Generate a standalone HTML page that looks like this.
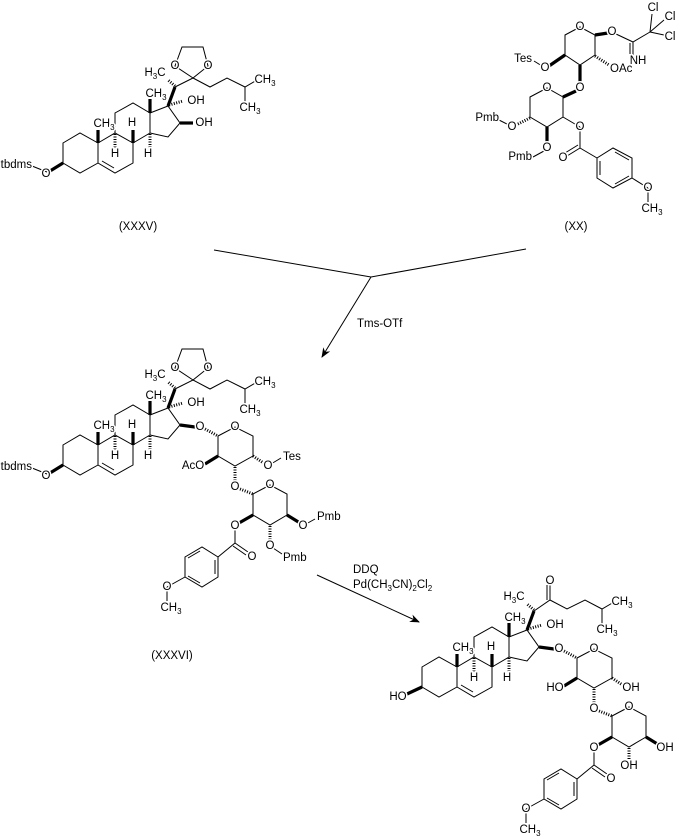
<!DOCTYPE html>
<html><head><meta charset="utf-8"><style>
html,body{margin:0;padding:0;background:#fff;}
svg{display:block;}
text{font-family:"Liberation Sans",sans-serif;font-size:11.5px;fill:#000;stroke:#fff;stroke-width:3px;paint-order:stroke;}
.c{text-anchor:middle;dominant-baseline:central;}
.e{text-anchor:end;dominant-baseline:central;}
.s{text-anchor:start;dominant-baseline:central;}
.n{stroke:none;}
</style></head><body>
<svg width="677" height="839" viewBox="0 0 677 839" xmlns="http://www.w3.org/2000/svg">
<defs>
<marker id="ah" markerWidth="10" markerHeight="8" refX="9" refY="4" orient="auto" markerUnits="userSpaceOnUse">
<path d="M0,0 L10,4 L0,8 L3,4 Z" fill="#000"/>
</marker>
</defs>
<g fill="none" stroke="#000" stroke-width="1">
<line x1="214" y1="250" x2="371" y2="277"/>
<line x1="526" y1="249" x2="371" y2="277"/>
<line x1="371" y1="277" x2="322" y2="357" marker-end="url(#ah)"/>
<line x1="317" y1="575" x2="419" y2="622" marker-end="url(#ah)"/>
</g>
<text class="s n" x="357" y="324">Tms-OTf</text>
<text class="s n" x="353" y="570">DDQ</text>
<text class="s n" x="353" y="585">Pd(CH<tspan font-size="8" dy="3">3</tspan><tspan dy="-3">CN)</tspan><tspan font-size="8" dy="3">2</tspan><tspan dy="-3">Cl</tspan><tspan font-size="8" dy="3">2</tspan></text>

<g>
<g fill="none" stroke="#000" stroke-width="1">
<path d="M63,143 L80,133 L98,143 L98,163 L80,173 L63,163 Z"/>
<path d="M98,143 L115,133 L133,143 L133,163 L115,173 L98,163"/>
<line x1="102" y1="161" x2="114" y2="168"/>
<path d="M115,133 L115,113 L133,103 L150,113 L150,133 L133,143"/>
<path d="M150,113 L168,106 L180,123 L168,137 L150,133"/>
<path d="M193,78 L210,87 L227,78 L245,87 L257,80 M245,87 L245,104"/>
<path d="M193,78 L175,66 L182,47 L203,47 L208,66 Z"/>
<line x1="175" y1="87" x2="193" y2="78"/>
<line x1="47" y1="172" x2="32" y2="166"/>
</g>
<g stroke="#000" stroke-width="3.2">
<line x1="98" y1="143" x2="98" y2="130"/>
<line x1="133" y1="143" x2="133" y2="130"/>
<line x1="150" y1="113" x2="150" y2="99"/>
<line x1="168" y1="106" x2="175" y2="87"/>
<line x1="180" y1="123" x2="193" y2="123"/>
<line x1="63" y1="163" x2="50" y2="171"/>
</g>
<g stroke="#000" stroke-width="3" stroke-dasharray="1 1.5">
<line x1="115" y1="134" x2="115" y2="148"/>
<line x1="150" y1="134" x2="150" y2="148"/>
<line x1="169" y1="105" x2="183" y2="101"/>
<line x1="175" y1="86" x2="168" y2="80"/>
</g>
<text class="c" x="104" y="124">CH<tspan font-size="8" dy="3">3</tspan></text>
<text class="c" x="115" y="154">H</text>
<text class="c" x="132" y="123">H</text>
<text class="c" x="148" y="154">H</text>
<text class="c" x="156" y="94">CH<tspan font-size="8" dy="3">3</tspan></text>
<text class="c" x="196" y="101">OH</text>
<text class="c" x="155" y="73">H<tspan font-size="8" dy="3">3</tspan><tspan dy="-3">C</tspan></text>
<text class="c" x="175" y="66">O</text>
<text class="c" x="208" y="66">O</text>
<text class="c" x="265" y="80">CH<tspan font-size="8" dy="3">3</tspan></text>
<text class="c" x="250" y="108">CH<tspan font-size="8" dy="3">3</tspan></text>
<text class="c" x="204" y="123">OH</text>
<text class="c" x="46" y="174">O</text>
<text class="e" x="32" y="165">tbdms</text>
<text class="c n" x="138" y="227">(XXXV)</text>
</g>

<g transform="translate(0,302)">
<g fill="none" stroke="#000" stroke-width="1">
<path d="M63,143 L80,133 L98,143 L98,163 L80,173 L63,163 Z"/>
<path d="M98,143 L115,133 L133,143 L133,163 L115,173 L98,163"/>
<line x1="102" y1="161" x2="114" y2="168"/>
<path d="M115,133 L115,113 L133,103 L150,113 L150,133 L133,143"/>
<path d="M150,113 L168,106 L180,123 L168,137 L150,133"/>
<path d="M193,78 L210,87 L227,78 L245,87 L257,80 M245,87 L245,104"/>
<path d="M193,78 L175,66 L182,47 L203,47 L208,66 Z"/>
<line x1="175" y1="87" x2="193" y2="78"/>
<line x1="47" y1="172" x2="32" y2="166"/>
</g>
<g stroke="#000" stroke-width="3.2">
<line x1="98" y1="143" x2="98" y2="130"/>
<line x1="133" y1="143" x2="133" y2="130"/>
<line x1="150" y1="113" x2="150" y2="99"/>
<line x1="168" y1="106" x2="175" y2="87"/>
<line x1="180" y1="123" x2="195" y2="125"/>
<line x1="63" y1="163" x2="50" y2="171"/>
</g>
<g stroke="#000" stroke-width="3" stroke-dasharray="1 1.5">
<line x1="115" y1="134" x2="115" y2="148"/>
<line x1="150" y1="134" x2="150" y2="148"/>
<line x1="169" y1="105" x2="183" y2="101"/>
<line x1="175" y1="86" x2="168" y2="80"/>
</g>
<text class="c" x="104" y="124">CH<tspan font-size="8" dy="3">3</tspan></text>
<text class="c" x="115" y="154">H</text>
<text class="c" x="132" y="123">H</text>
<text class="c" x="148" y="154">H</text>
<text class="c" x="156" y="94">CH<tspan font-size="8" dy="3">3</tspan></text>
<text class="c" x="196" y="101">OH</text>
<text class="c" x="155" y="73">H<tspan font-size="8" dy="3">3</tspan><tspan dy="-3">C</tspan></text>
<text class="c" x="175" y="66">O</text>
<text class="c" x="208" y="66">O</text>
<text class="c" x="265" y="80">CH<tspan font-size="8" dy="3">3</tspan></text>
<text class="c" x="250" y="108">CH<tspan font-size="8" dy="3">3</tspan></text>
<text class="c" x="46" y="174">O</text>
<text class="e" x="32" y="165">tbdms</text>
</g>
<text class="c n" x="172" y="656">(XXXVI)</text>

<g>
<g fill="none" stroke="#000" stroke-width="1">
<path d="M218,436 L235,427 L253,436 L253,456 L235,466 L218,456 Z"/>
<path d="M253,494 L270,485 L287,494 L287,515 L270,525 L253,515 Z"/>
<line x1="271" y1="464" x2="281" y2="458"/>
<line x1="306" y1="524" x2="315" y2="519"/>
<line x1="273" y1="548" x2="282" y2="554"/>
<line x1="235" y1="529" x2="235" y2="543"/>
<line x1="235" y1="543" x2="218" y2="557"/>
<line x1="235" y1="543" x2="248" y2="552"/>
<line x1="233" y1="546" x2="246" y2="555"/>
<path d="M218,557 L218,577 L202,587 L185,577 L185,557 L202,547 Z"/>
<line x1="215" y1="560" x2="215" y2="574"/>
<line x1="200" y1="583" x2="188" y2="576"/>
<line x1="188" y1="558" x2="200" y2="551"/>
<line x1="185" y1="577" x2="167" y2="587"/>
<line x1="167" y1="587" x2="167" y2="601"/>
</g>
<g stroke="#000" stroke-width="3.2">
<line x1="218" y1="456" x2="205" y2="464"/>
<line x1="287" y1="515" x2="300" y2="523"/>
<line x1="253" y1="515" x2="239" y2="523"/>
</g>
<g stroke="#000" stroke-width="3" stroke-dasharray="1 1.5">
<line x1="205" y1="429" x2="218" y2="436"/>
<line x1="253" y1="456" x2="265" y2="464"/>
<line x1="235" y1="467" x2="235" y2="482"/>
<line x1="240" y1="489" x2="253" y2="494"/>
<line x1="270" y1="526" x2="270" y2="541"/>
</g>
<text class="c" x="200" y="427">O</text>
<text class="c" x="235" y="427">O</text>
<text class="c" x="270" y="485">O</text>
<text class="c" x="193" y="466">AcO</text>
<text class="c" x="268" y="466">O</text>
<text class="s" x="283" y="457">Tes</text>
<text class="c" x="235" y="487">O</text>
<text class="c" x="303" y="526">O</text>
<text class="s" x="317" y="517">Pmb</text>
<text class="c" x="270" y="546">O</text>
<text class="s" x="283" y="558">Pmb</text>
<text class="c" x="235" y="526">O</text>
<text class="c" x="252" y="557">O</text>
<text class="c" x="167" y="587">O</text>
<text class="c" x="171" y="608">CH<tspan font-size="8" dy="3">3</tspan></text>
</g>

<g>
<g fill="none" stroke="#000" stroke-width="1">
<path d="M565,35 L580,27 L595,35 L595,55 L580,65 L565,55 Z"/>
<path d="M530,97 L547,88 L563,97 L563,117 L547,127 L530,117 Z"/>
<line x1="616" y1="34" x2="633" y2="42"/>
<line x1="633" y1="42" x2="633" y2="55"/>
<line x1="630" y1="43" x2="630" y2="55"/>
<line x1="633" y1="42" x2="650" y2="32"/>
<line x1="650" y1="32" x2="652" y2="14"/>
<line x1="650" y1="32" x2="664" y2="20"/>
<line x1="650" y1="32" x2="664" y2="35"/>
<line x1="542" y1="66" x2="534" y2="61"/>
<line x1="509" y1="125" x2="499" y2="120"/>
<line x1="544" y1="151" x2="533" y2="157"/>
<line x1="563" y1="117" x2="580" y2="127"/>
<line x1="580" y1="127" x2="580" y2="148"/>
<line x1="580" y1="148" x2="567" y2="156"/>
<line x1="578" y1="145" x2="565" y2="153"/>
<line x1="580" y1="148" x2="597" y2="158"/>
<path d="M597,158 L597,178 L613,188 L632,178 L632,158 L613,148 Z"/>
<line x1="600" y1="161" x2="600" y2="175"/>
<line x1="615" y1="184" x2="629" y2="176"/>
<line x1="629" y1="160" x2="615" y2="152"/>
<line x1="632" y1="178" x2="648" y2="188"/>
<line x1="648" y1="188" x2="648" y2="202"/>
</g>
<g stroke="#000" stroke-width="3.2">
<line x1="595" y1="35" x2="608" y2="33"/>
<line x1="565" y1="55" x2="549" y2="66"/>
<line x1="580" y1="65" x2="580" y2="83"/>
<line x1="576" y1="91" x2="563" y2="97"/>
<line x1="547" y1="127" x2="547" y2="143"/>
</g>
<g stroke="#000" stroke-width="3" stroke-dasharray="1 1.5">
<line x1="595" y1="56" x2="609" y2="65"/>
<line x1="530" y1="118" x2="516" y2="125"/>
</g>
<text class="c" x="580" y="27">O</text>
<text class="c" x="612" y="32">O</text>
<text class="c" x="653" y="8">Cl</text>
<text class="c" x="670" y="17">Cl</text>
<text class="c" x="670" y="37">Cl</text>
<text class="c" x="638" y="61">NH</text>
<text class="s" x="610" y="69">OAc</text>
<text class="c" x="545" y="68">O</text>
<text class="e" x="532" y="59">Tes</text>
<text class="c" x="580" y="88">O</text>
<text class="c" x="547" y="88">O</text>
<text class="c" x="512" y="127">O</text>
<text class="e" x="499" y="118">Pmb</text>
<text class="c" x="547" y="148">O</text>
<text class="e" x="532" y="157">Pmb</text>
<text class="c" x="580" y="127">O</text>
<text class="c" x="563" y="158">O</text>
<text class="c" x="648" y="188">O</text>
<text class="c" x="652" y="209">CH<tspan font-size="8" dy="3">3</tspan></text>
<text class="c n" x="576" y="227">(XX)</text>
</g>

<g transform="translate(359,524)">
<g fill="none" stroke="#000" stroke-width="1">
<path d="M63,143 L80,133 L98,143 L98,163 L80,173 L63,163 Z"/>
<path d="M98,143 L115,133 L133,143 L133,163 L115,173 L98,163"/>
<line x1="102" y1="161" x2="114" y2="168"/>
<path d="M115,133 L115,113 L133,103 L150,113 L150,133 L133,143"/>
<path d="M150,113 L168,106 L180,123 L168,137 L150,133"/>
<path d="M175,87 L191,76 L208,85 L226,76 L243,85 L255,78 M243,85 L243,102"/>
<line x1="191" y1="76" x2="191" y2="61"/>
<line x1="188" y1="76" x2="188" y2="61"/>
</g>
<g stroke="#000" stroke-width="3.2">
<line x1="98" y1="143" x2="98" y2="130"/>
<line x1="133" y1="143" x2="133" y2="130"/>
<line x1="150" y1="113" x2="150" y2="99"/>
<line x1="168" y1="106" x2="175" y2="87"/>
<line x1="180" y1="123" x2="195" y2="125"/>
<line x1="63" y1="163" x2="48" y2="170"/>
</g>
<g stroke="#000" stroke-width="3" stroke-dasharray="1 1.5">
<line x1="115" y1="134" x2="115" y2="148"/>
<line x1="150" y1="134" x2="150" y2="148"/>
<line x1="169" y1="105" x2="183" y2="101"/>
<line x1="175" y1="86" x2="168" y2="80"/>
</g>
<text class="c" x="104" y="124">CH<tspan font-size="8" dy="3">3</tspan></text>
<text class="c" x="115" y="154">H</text>
<text class="c" x="132" y="123">H</text>
<text class="c" x="148" y="154">H</text>
<text class="c" x="156" y="94">CH<tspan font-size="8" dy="3">3</tspan></text>
<text class="c" x="196" y="101">OH</text>
<text class="c" x="155" y="73">H<tspan font-size="8" dy="3">3</tspan><tspan dy="-3">C</tspan></text>
<text class="c" x="191" y="57">O</text>
<text class="c" x="263" y="78">CH<tspan font-size="8" dy="3">3</tspan></text>
<text class="c" x="248" y="106">CH<tspan font-size="8" dy="3">3</tspan></text>
<text class="c" x="39" y="173">HO</text>
</g>

<g transform="translate(359,222)">
<g fill="none" stroke="#000" stroke-width="1">
<path d="M218,436 L235,427 L253,436 L253,456 L235,466 L218,456 Z"/>
<path d="M253,494 L270,485 L287,494 L287,515 L270,525 L253,515 Z"/>
<line x1="235" y1="529" x2="235" y2="543"/>
<line x1="235" y1="543" x2="218" y2="557"/>
<line x1="235" y1="543" x2="248" y2="552"/>
<line x1="233" y1="546" x2="246" y2="555"/>
<path d="M218,557 L218,577 L202,587 L185,577 L185,557 L202,547 Z"/>
<line x1="215" y1="560" x2="215" y2="574"/>
<line x1="200" y1="583" x2="188" y2="576"/>
<line x1="188" y1="558" x2="200" y2="551"/>
<line x1="185" y1="577" x2="167" y2="587"/>
<line x1="167" y1="587" x2="167" y2="601"/>
</g>
<g stroke="#000" stroke-width="3.2">
<line x1="218" y1="456" x2="205" y2="464"/>
<line x1="287" y1="515" x2="300" y2="523"/>
<line x1="253" y1="515" x2="239" y2="523"/>
</g>
<g stroke="#000" stroke-width="3" stroke-dasharray="1 1.5">
<line x1="205" y1="429" x2="218" y2="436"/>
<line x1="253" y1="456" x2="265" y2="464"/>
<line x1="235" y1="467" x2="235" y2="482"/>
<line x1="240" y1="489" x2="253" y2="494"/>
<line x1="270" y1="526" x2="270" y2="538"/>
</g>
<text class="c" x="200" y="427">O</text>
<text class="c" x="235" y="427">O</text>
<text class="c" x="270" y="485">O</text>
<text class="c" x="196" y="466">HO</text>
<text class="c" x="272" y="466">OH</text>
<text class="c" x="235" y="487">O</text>
<text class="c" x="306" y="526">OH</text>
<text class="c" x="270" y="544">OH</text>
<text class="c" x="235" y="526">O</text>
<text class="c" x="252" y="557">O</text>
<text class="c" x="167" y="587">O</text>
<text class="c" x="171" y="608">CH<tspan font-size="8" dy="3">3</tspan></text>
</g>
</svg>
</body></html>
